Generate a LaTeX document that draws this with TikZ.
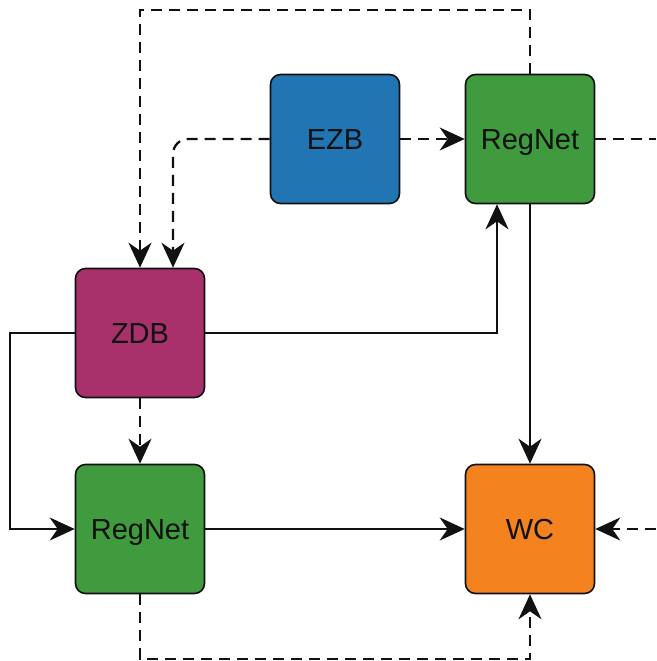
\documentclass[tikz,border=0pt]{standalone}
\usepackage{fontspec}
\setmainfont{Liberation Sans}
\usetikzlibrary{arrows.meta}
\definecolor{ezbblue}{HTML}{2275B3}
\definecolor{rngreen}{HTML}{409A3E}
\definecolor{zdbmag}{HTML}{A8306B}
\definecolor{wcorange}{HTML}{F4831F}
\definecolor{ink}{HTML}{111111}
\begin{document}
\begin{tikzpicture}[x=1pt,y=-1pt,
  box/.style={draw=ink, line width=1.6pt, rounded corners=10pt, minimum width=129pt, minimum height=129pt, inner sep=0pt, text height=21pt, text depth=0pt, font=\fontsize{29}{35}\selectfont, text=ink},
  link/.style={draw=ink, line width=2.3pt},
  conn/.style={link, -{Stealth[length=25pt,width=23pt,inset=8pt]}},
  dsh/.style={dash pattern=on 11pt off 7pt}]
\useasboundingbox (0,0) rectangle (656,661);
\node[box, fill=ezbblue] (ezb) at (335,139) {EZB};
\node[box, fill=rngreen] (rn1) at (530,139) {RegNet};
\node[box, fill=zdbmag] (zdb) at (140,333) {ZDB};
\node[box, fill=rngreen] (rn2) at (140,529) {RegNet};
\node[box, fill=wcorange] (wc) at (530,529) {WC};
\coordinate (topl) at (0,10);
\coordinate (leftl) at (10,0);
\coordinate (botl) at (0,659);
\coordinate (r1) at (656,139);
\coordinate (r2) at (656,529);
% top dashed loop
\draw[conn,dsh] (rn1.north) -- (rn1.north |- topl) -| (zdb.north);
% EZB to ZDB
\draw[conn,dsh,rounded corners=15pt] (ezb.west) -| ([xshift=33pt]zdb.north);
% EZB to RegNet
\draw[conn,dsh] (ezb.east) -- (rn1.west);
% RegNet right stub
\draw[link,dsh] (rn1.east) -- (r1);
% ZDB to RegNet top
\draw[conn] (zdb.east) -| ([xshift=-33pt]rn1.south);
% ZDB left loop to RegNet bottom
\draw[conn] (zdb.west) -- (zdb.west -| leftl) |- (rn2.west);
% ZDB to RegNet bottom
\draw[conn,dsh] (zdb.south) -- (rn2.north);
% RegNet top to WC
\draw[conn] (rn1.south) -- (wc.north);
% RegNet bottom to WC
\draw[conn] (rn2.east) -- (wc.west);
% right input to WC
\draw[conn,dsh] (r2) -- (wc.east);
% bottom dashed loop
\draw[conn,dsh] (rn2.south) -- (rn2.south |- botl) -| (wc.south);
\end{tikzpicture}
\end{document}
